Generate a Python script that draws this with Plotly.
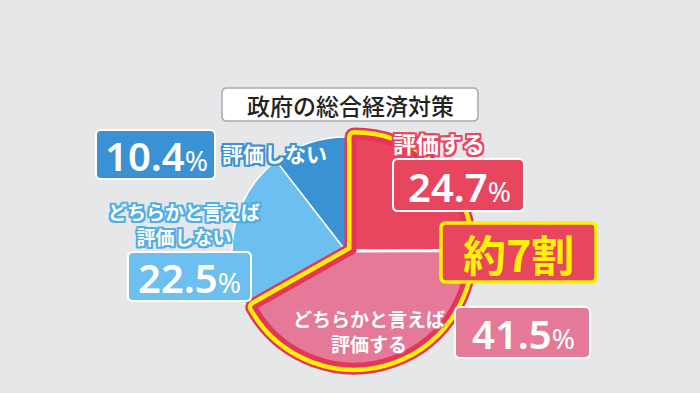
import plotly.graph_objects as go

# ---- data ----
CATEGORIES = ["評価する", "どちらかと言えば評価する", "どちらかと言えば評価しない", "評価しない"]
VALUES = [24.7, 41.5, 22.5, 10.4]
TITLE = "政府の総合経済対策"
HIGHLIGHT = "約7割"

# ---- style ----
W, H = 700, 393
BG = "#e6e7e9"
RED = "#e8455f"
PINK = "#e47a97"
LBLUE = "#6cbfee"
DBLUE = "#3a92d4"
YELLOW = "#fff100"
BRED = "#e6355a"
T = "rgba(0,0,0,0)"
JP = "Noto Sans CJK JP"


def px_dom(cx, cy, r):
    return dict(x=[(cx - r) / W, (cx + r) / W], y=[1 - (cy + r) / H, 1 - (cy - r) / H])


R = 114
blue_dom = px_dom(346, 251, R)
red_dom = px_dom(354, 251, R)

total = sum(VALUES)
positive = VALUES[0] + VALUES[1]
combined = [positive, total - positive]

common = dict(sort=False, direction="clockwise", rotation=0, textinfo="none",
              hoverinfo="skip", showlegend=False)

fig = go.Figure()
# negative side (blue)
fig.add_trace(go.Pie(values=VALUES, labels=CATEGORIES, domain=blue_dom,
                     marker=dict(colors=[T, T, LBLUE, DBLUE],
                                 line=dict(color="white", width=[0, 0, 1.5, 1.5])),
                     **common))
# outline of positive side: outer red, yellow
for col, wd in [(BRED, 19), (YELLOW, 14)]:
    fig.add_trace(go.Pie(values=combined, labels=["pos", "rest"], domain=red_dom,
                         marker=dict(colors=[col, T], line=dict(color=[col, T], width=[wd, 0])),
                         **common))
# positive fills
fig.add_trace(go.Pie(values=VALUES, labels=CATEGORIES, domain=red_dom,
                     marker=dict(colors=[RED, PINK, T, T],
                                 line=dict(color="white", width=[3, 3, 0, 0])),
                     **common))
# inner red line of outline
fig.add_trace(go.Pie(values=combined, labels=["pos", "rest"], domain=red_dom,
                     marker=dict(colors=[T, T], line=dict(color=[BRED, T], width=[5, 0])),
                     **common))


def rr(x0, y0, x1, y1, fill, line, lw, r=5):
    def X(v):
        return v / W

    def Y(v):
        return 1 - v / H
    p = (f"M {X(x0+r)} {Y(y0)} L {X(x1-r)} {Y(y0)} Q {X(x1)} {Y(y0)} {X(x1)} {Y(y0+r)} "
         f"L {X(x1)} {Y(y1-r)} Q {X(x1)} {Y(y1)} {X(x1-r)} {Y(y1)} "
         f"L {X(x0+r)} {Y(y1)} Q {X(x0)} {Y(y1)} {X(x0)} {Y(y1-r)} "
         f"L {X(x0)} {Y(y0+r)} Q {X(x0)} {Y(y0)} {X(x0+r)} {Y(y0)} Z")
    fig.add_shape(type="path", path=p, xref="paper", yref="paper",
                  fillcolor=fill, line=dict(color=line, width=lw), layer="above")


def outline(c, w=2):
    parts = []
    for dx in (-w, 0, w):
        for dy in (-w, 0, w):
            if dx or dy:
                parts.append(f"{dx}px {dy}px 0 {c}")
    return ", ".join(parts)


def ann(text, cx, cy, size, color="white", weight="bold", shadow="none", family=JP):
    fig.add_annotation(text=text, x=cx / W, y=1 - cy / H, xref="paper", yref="paper",
                       xanchor="center", yanchor="middle", showarrow=False,
                       font=dict(size=size, color=color, family=family, weight=weight,
                                 shadow=shadow))


def pct(v):
    return f"{v}<span style='font-size:28px;font-weight:normal'>%</span>"


# boxes
rr(222, 88, 478, 121, "white", "#a9abae", 1.5)
rr(96, 130, 215, 179, DBLUE, "white", 2)
rr(393, 159, 524, 211, RED, "white", 2)
rr(441, 223, 596, 282, RED, YELLOW, 3.5)
rr(128, 252, 251, 301, LBLUE, "white", 2)
rr(455, 307, 590, 358, PINK, "white", 2)

# texts
ann(TITLE, 350, 105, 23, color="#222222", weight=500)
ann(pct(VALUES[3]), 156, 155, 40, family="Noto Sans", weight=600)
ann(CATEGORIES[3], 274, 153, 21, shadow=outline(DBLUE))
ann(CATEGORIES[0], 439, 143, 23, shadow=outline(RED))
ann(pct(VALUES[0]), 459, 186, 40, family="Noto Sans", weight=600)
ann(HIGHLIGHT, 518, 253, 43, color=YELLOW)
ann("どちらかと言えば<br>評価しない", 184, 224, 19, shadow=outline("#4eaee8"))
ann(pct(VALUES[2]), 190, 277, 40, family="Noto Sans", weight=600)
ann("どちらかと言えば<br>評価する", 369, 331, 19, shadow=outline(PINK, 1))
ann(pct(VALUES[1]), 523, 333, 40, family="Noto Sans", weight=600)

fig.update_layout(width=W, height=H, margin=dict(l=0, r=0, t=0, b=0),
                  paper_bgcolor=BG, plot_bgcolor=BG)
fig.write_html("out.html", config={"displayModeBar": False},
               post_script="document.body.style.margin='0px';")
